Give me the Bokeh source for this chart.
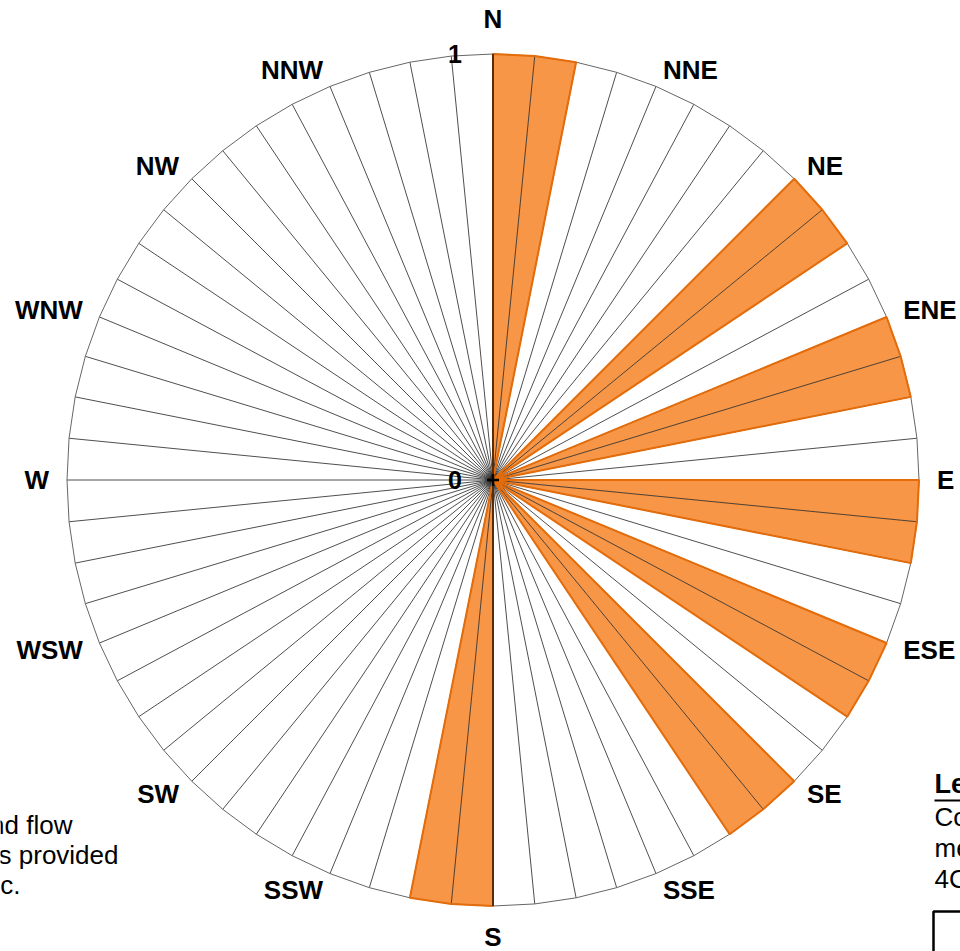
import numpy as np
from bokeh.plotting import figure
from bokeh.models import Range1d
from bokeh.embed import file_html
from bokeh.resources import INLINE
from bokeh.core.properties import value

# ---------------- data ----------------
sector_values = [
    1, 1, 0, 0, 0, 0, 0, 0,
    1, 1, 0, 0, 1, 1, 0, 0,
    1, 1, 0, 0, 1, 1, 0, 0,
    1, 1, 0, 0, 0, 0, 0, 0,
    1, 1, 0, 0, 0, 0, 0, 0,
    0, 0, 0, 0, 0, 0, 0, 0,
    0, 0, 0, 0, 0, 0, 0, 0,
    0, 0, 0, 0, 0, 0, 0, 0,
]
compass_labels = ["N", "NNE", "NE", "ENE", "E", "ESE", "SE", "SSE",
                  "S", "SSW", "SW", "WSW", "W", "WNW", "NW", "NNW"]
radial_ticks = [0, 1]
radial_tick_labels = ["0", "1"]
left_note_lines = ["nd flow", "s provided", "c."]
legend_title = "Legend"
legend_lines = ["Co", "me", "4C"]

# ---------------- layout ----------------
W, H = 960, 951
PX = 426.0              # pixels per radial unit
CX, CY = 492.5, 479.5   # centre in canvas pixels
FONT = "Liberation Sans"
ORANGE = "#F79646"
ORANGE_LINE = "#E46C0A"


def pix(px_x, px_y):
    """canvas pixel -> data coords"""
    return (px_x - CX) / PX, (CY - px_y) / PX


p = figure(width=W, height=H, output_backend="svg", toolbar_location=None,
           x_range=Range1d(-CX / PX, (W - CX) / PX),
           y_range=Range1d(-(H - CY) / PX, CY / PX),
           x_axis_type=None, y_axis_type=None, min_border=0,
           outline_line_color=None, background_fill_color="white")
p.grid.visible = False

n = len(sector_values)
step = 2 * np.pi / n
rmax = max(radial_ticks)
vals = np.array(sector_values, dtype=float)

# filled sectors
fx, fy = [], []
for k, v in enumerate(vals):
    if v > 0:
        a0, a1 = k * step, (k + 1) * step
        fx.append([0, v * np.sin(a0), v * np.sin(a1)])
        fy.append([0, v * np.cos(a0), v * np.cos(a1)])
p.patches(fx, fy, fill_color=ORANGE, line_alpha=0)

# spokes
ang = np.arange(n) * step
p.multi_line([[0, rmax * np.sin(a)] for a in ang],
             [[0, rmax * np.cos(a)] for a in ang],
             line_color="#222222", line_width=0.8)
# outer polygon
ring = np.arange(n + 1) * step
p.line(rmax * np.sin(ring), rmax * np.cos(ring), line_color="#666666", line_width=1)

# outlines of contiguous runs
runs = []
k = 0
while k < n:
    if vals[k] > 0:
        s = k
        while k < n and vals[k] > 0:
            k += 1
        runs.append((s, k - 1))
    else:
        k += 1
ox, oy = [], []
for s, e in runs:
    xs, ys = [0.0], [0.0]
    for j in range(s, e + 1):
        v = vals[j]
        for a in (j * step, (j + 1) * step):
            xs.append(v * np.sin(a))
            ys.append(v * np.cos(a))
    xs.append(0.0)
    ys.append(0.0)
    ox.append(xs)
    oy.append(ys)
p.multi_line(ox, oy, line_color=ORANGE_LINE, line_width=2)

# vertical axis line on top
p.multi_line([[0, 0], [0, 0]], [[0, rmax], [0, -rmax]], line_color="black", line_width=1.2)
p.scatter([0], [0], marker="cross", size=12, line_width=2.5, line_color="black")

# compass labels
for i, lab in enumerate(compass_labels):
    a = i * 2 * np.pi / len(compass_labels)
    sa, ca = np.sin(a), np.cos(a)
    if abs(sa) < 0.01:
        align = "center"
        r = rmax + (35.5 if ca > 0 else 31.0) / PX
    else:
        align = "left" if sa > 0 else "right"
        r = rmax + 18 / PX
    p.text([r * sa], [r * ca], text=[lab], text_align=align, text_baseline="middle",
           text_font=value(FONT), text_font_style="bold", text_font_size="26px",
           text_color="black")

# radial tick labels
p.text([-31 / PX] * len(radial_ticks), radial_ticks, text=radial_tick_labels,
       text_align="right", text_baseline="middle", text_font=value(FONT),
       text_font_style="bold", text_font_size="25px", text_color="black")

# left note (cut off at the page edge, as in the original)
note_ends = [72, 118, 20]
for i, (t, xe) in enumerate(zip(left_note_lines, note_ends)):
    x, y = pix(xe, 824 + 30 * i)
    p.text([x], [y], text=[t], text_align="right", text_baseline="middle",
           text_font=value(FONT), text_font_size="26px", text_color="black")

# legend (cut off at the page edge, as in the original)
x0, y0 = pix(934, 783)
p.text([x0], [y0], text=[legend_title], text_align="left", text_baseline="middle",
       text_font=value(FONT), text_font_style="bold", text_font_size="27px", text_color="black")
ux0, uy = pix(934, 800)
ux1, _ = pix(1010, 800)
p.line([ux0, ux1], [uy, uy], line_color="black", line_width=2)
for i, t in enumerate(legend_lines):
    x, y = pix(934, 816 + 31 * i)
    p.text([x], [y], text=[t], text_align="left", text_baseline="middle",
           text_font=value(FONT), text_font_size="26px", text_color="black")
bx0, by0 = pix(933, 911)
bx1, by1 = pix(1100, 1000)
p.quad(left=[bx0], right=[bx1], top=[by0], bottom=[by1], fill_alpha=0,
       line_color="black", line_width=2.5)

open("out.html", "w").write(file_html(p, INLINE))
